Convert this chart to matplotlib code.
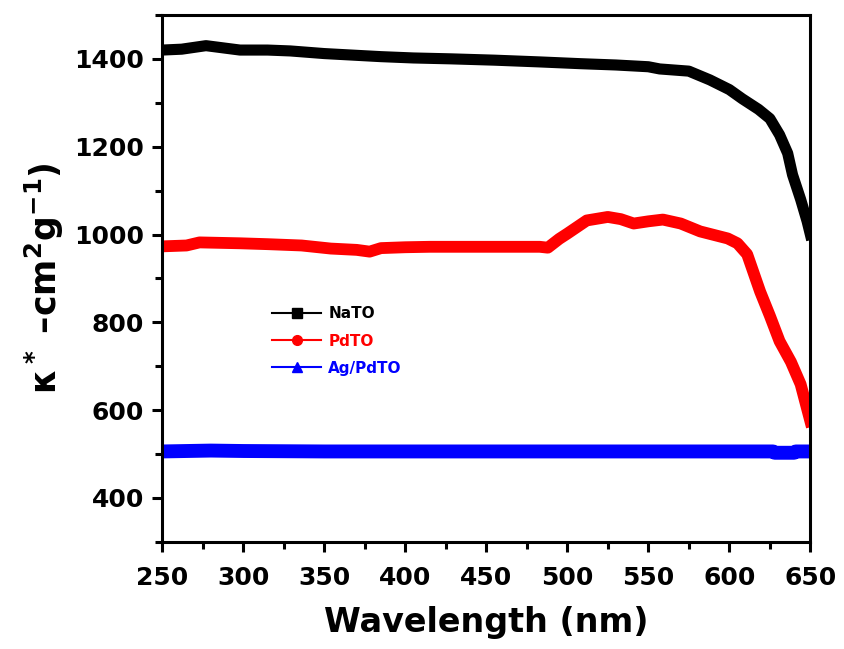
# -*- coding: utf-8 -*-
"""
Absorption coefficient vs wavelength for NaTO, PdTO and Ag/PdTO.
"""

import matplotlib
matplotlib.use("Agg")
import matplotlib.pyplot as plt
from matplotlib.lines import Line2D
from matplotlib.ticker import MultipleLocator

plt.rcParams["font.family"] = ["DejaVu Sans"]
plt.rcParams["font.weight"] = "bold"
plt.rcParams["mathtext.fontset"] = "custom"
plt.rcParams["mathtext.rm"] = "DejaVu Sans:bold"
plt.rcParams["mathtext.bf"] = "DejaVu Sans:bold"
plt.rcParams["mathtext.default"] = "bf"

# Data
# ========================
nato_wl = [250, 262, 277, 298, 315, 329, 350, 370, 385, 405, 428, 455, 483, 508,
           530, 550, 557, 575, 588, 600, 608, 618, 625, 631, 636, 639, 644, 648, 650]
nato_k = [1420, 1422, 1430, 1420, 1420, 1418, 1412, 1408, 1405, 1402, 1400, 1397, 1393, 1389,
          1386, 1382, 1377, 1372, 1352, 1330, 1309, 1285, 1264, 1227, 1185, 1136, 1080, 1030, 1000]

pdto_wl = [250, 265, 273, 298, 315, 336, 354, 370, 378, 385, 400, 415, 440, 460, 483,
           488, 495, 500, 512, 525, 533, 541, 550, 559, 570, 582, 599, 605, 611, 619,
           625, 631, 638, 644, 650]
pdto_k = [973, 975, 982, 980, 978, 975, 968, 965, 961, 969, 971, 972, 972, 972, 972,
          970, 990, 1002, 1032, 1040, 1035, 1025, 1030, 1034, 1025, 1007, 991, 980, 955, 870,
          815, 757, 710, 659, 575]

agpdto_wl = [250, 280, 300, 350, 400, 450, 500, 550, 600, 627, 628, 640, 641, 650]
agpdto_k = [506, 508, 507, 506, 506, 506, 506, 506, 506, 506, 503, 503, 506, 506]

labels = ["NaTO", "PdTO", "Ag/PdTO"]
colors = ["black", "red", "blue"]
markers = ["s", "o", "^"]

fig = plt.figure(figsize=(8.45, 6.49), dpi=100)
ax = fig.add_axes([0.192, 0.165, 0.767, 0.812])

ax.plot(nato_wl, nato_k, color=colors[0], lw=8, solid_joinstyle="round")
ax.plot(pdto_wl, pdto_k, color=colors[1], lw=8.5, solid_joinstyle="round")
ax.plot(agpdto_wl, agpdto_k, color=colors[2], lw=10, solid_joinstyle="round")

ax.set_xlim(250, 650)
ax.set_ylim(300, 1500)
ax.xaxis.set_major_locator(MultipleLocator(50))
ax.xaxis.set_minor_locator(MultipleLocator(25))
ax.yaxis.set_minor_locator(MultipleLocator(100))
ax.set_yticks([400, 600, 800, 1000, 1200, 1400])

for s in ax.spines.values():
    s.set_linewidth(2.2)
ax.tick_params(which="major", direction="out", length=7, width=2.2, labelsize=18, pad=6)
ax.tick_params(axis="x", which="major", pad=10)
ax.tick_params(which="minor", direction="out", length=5, width=2.2)
for lab in ax.get_xticklabels() + ax.get_yticklabels():
    lab.set_fontweight("bold")

ax.set_xlabel("Wavelength (nm)", fontsize=24, fontweight="bold", labelpad=12)
ax.set_ylabel(r"κ$^*$ –cm$^2$g$^{-1}$)", fontsize=25, fontweight="bold", labelpad=6)

handles = [Line2D([0], [0], color=c, lw=1.5, marker=m, ms=7) for c, m in zip(colors, markers)]
leg = ax.legend(handles, labels, loc="upper left", bbox_to_anchor=(0.170, 0.447),
                frameon=False, fontsize=11, handlelength=3.2, handletextpad=0.45,
                labelspacing=0.8, borderpad=0, borderaxespad=0)
for text, c in zip(leg.get_texts(), colors):
    text.set_color(c)
    text.set_fontweight("bold")

plt.savefig("out.png", dpi=100)
